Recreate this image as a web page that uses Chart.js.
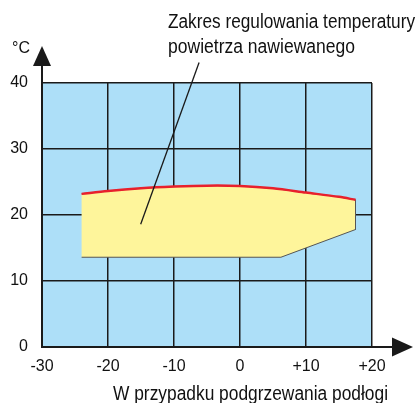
<!DOCTYPE html>
<html>
<head>
<meta charset="utf-8">
<script src="https://cdn.jsdelivr.net/npm/chart.js@4.4.1/dist/chart.umd.min.js"></script>
<style>
  html, body { margin: 0; padding: 0; background: #fff; }
  #wykres { display: block; }
</style>
</head>
<body>
<canvas id="wykres" width="420" height="403"></canvas>
<script>
// Oś X: temperatura zewnętrzna, oś Y: temperatura powietrza (°C)
const xTicks = [-30, -20, -10, 0, 10, 20];
const yTicks = [0, 10, 20, 30, 40];

// Górna krawędź obszaru regulacji (czerwona linia)
const topX = [-24, -20, -15, -10, -5, 0, 5, 10, 15, 17.5];
const topY = [23.2, 23.65, 24.05, 24.3, 24.45, 24.4, 24.05, 23.4, 22.75, 22.3];

// Dolna część obszaru (od prawej do lewej)
const bottomX = [17.5, 6.2, -24];
const bottomY = [17.8, 13.6, 13.6];

// Linia odnośnika do opisu
const leaderX = [-15.05, -6.2];
const leaderY = [18.6, 43.1];

const titleLines = ['Zakres regulowania temperatury', 'powietrza nawiewanego'];
const xTitle = 'W przypadku podgrzewania podłogi';
const yUnit = '°C';

const toPoints = (xs, ys) => xs.map((x, i) => ({ x: x, y: ys[i] }));

const areaPoints = toPoints(topX, topY).concat(toPoints(bottomX, bottomY));

// Tło, strzałki osi i napisy
const decorPlugin = {
    id: 'decor',
    beforeDraw(chart) {
        const { ctx, chartArea: a } = chart;
        ctx.save();
        ctx.fillStyle = '#ADDFF8';
        ctx.fillRect(a.left, a.top, a.right - a.left, a.bottom - a.top);
        ctx.restore();
    },
    afterDraw(chart) {
        const { ctx, chartArea: a } = chart;
        ctx.save();
        ctx.strokeStyle = '#1a1a1a';
        ctx.fillStyle = '#1a1a1a';
        ctx.lineWidth = 2;
        // oś Y ze strzałką
        ctx.beginPath();
        ctx.moveTo(a.left, a.bottom);
        ctx.lineTo(a.left, 60);
        ctx.stroke();
        ctx.beginPath();
        ctx.moveTo(a.left, 46);
        ctx.lineTo(a.left - 9, 66);
        ctx.lineTo(a.left + 9, 66);
        ctx.closePath();
        ctx.fill();
        // oś X ze strzałką
        ctx.beginPath();
        ctx.moveTo(a.left, a.bottom);
        ctx.lineTo(400, a.bottom);
        ctx.stroke();
        ctx.beginPath();
        ctx.moveTo(413, a.bottom);
        ctx.lineTo(392, a.bottom - 9.5);
        ctx.lineTo(392, a.bottom + 9.5);
        ctx.closePath();
        ctx.fill();

        // napisy - wąski krój, więc ściskamy przez maxWidth
        ctx.fillStyle = '#111';
        ctx.textAlign = 'left';
        ctx.textBaseline = 'alphabetic';
        ctx.font = '20px "Liberation Sans", Arial, sans-serif';
        ctx.fillText(titleLines[0], 168, 28, 247);
        ctx.fillText(titleLines[1], 168, 53, 187);
        ctx.fillText(xTitle, 113, 400, 275);
        ctx.font = '16px "Liberation Sans", Arial, sans-serif';
        ctx.fillText(yUnit, 12, 53, 18);
        ctx.restore();
    }
};

new Chart(document.getElementById('wykres'), {
    type: 'scatter',
    data: {
        datasets: [
            {
                data: areaPoints,
                order: 3,
                showLine: true,
                fill: 'shape',
                backgroundColor: '#FEF59B',
                borderColor: '#555555',
                borderWidth: 1,
                pointRadius: 0,
                tension: 0
            },
            {
                data: toPoints(topX, topY),
                order: 1,
                showLine: true,
                fill: false,
                borderColor: '#E8202C',
                borderWidth: 2.5,
                pointRadius: 0,
                tension: 0.3
            },
            {
                data: toPoints(leaderX, leaderY),
                order: 0,
                showLine: true,
                fill: false,
                borderColor: '#1a1a1a',
                borderWidth: 1.3,
                pointRadius: 0,
                clip: false
            }
        ]
    },
    options: {
        responsive: false,
        animation: false,
        layout: { padding: { top: 83, right: 48, left: 0, bottom: 0 } },
        plugins: {
            legend: { display: false },
            tooltip: { enabled: false }
        },
        scales: {
            x: {
                type: 'linear',
                min: xTicks[0],
                max: xTicks[xTicks.length - 1],
                z: 1,
                afterBuildTicks: s => { s.ticks = xTicks.map(v => ({ value: v })); },
                afterFit: s => { s.height = 56; },
                grid: { color: '#1a1a1a', lineWidth: 1.5, drawTicks: false },
                border: { color: '#1a1a1a', width: 2 },
                ticks: {
                    padding: 10,
                    color: '#111',
                    font: { family: '"Liberation Sans", Arial, sans-serif', size: 16 },
                    callback: v => (v > 0 ? '+' + v : String(v))
                }
            },
            y: {
                min: yTicks[0],
                max: yTicks[yTicks.length - 1],
                z: 1,
                afterBuildTicks: s => { s.ticks = yTicks.map(v => ({ value: v })); },
                afterFit: s => { s.width = 42; },
                grid: { color: '#1a1a1a', lineWidth: 1.5, drawTicks: false },
                border: { color: '#1a1a1a', width: 2 },
                ticks: {
                    padding: 14,
                    color: '#111',
                    font: { family: '"Liberation Sans", Arial, sans-serif', size: 16 }
                }
            }
        }
    },
    plugins: [decorPlugin]
});
</script>
</body>
</html>
